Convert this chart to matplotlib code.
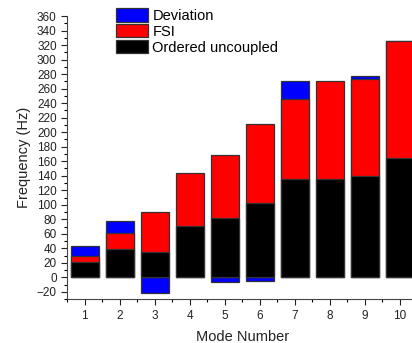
import numpy as np
import matplotlib.pyplot as plt
from matplotlib.ticker import MultipleLocator

# <codecell>
'''DATA'''
modes = [1, 2, 3, 4, 5, 6, 7, 8, 9, 10]
deviation = [43, 77, -21, 0, -6, -4.5, 270, 0, 278, 326]
fsi = [30, 61, 90, 144, 169, 211, 246, 270, 273, 326]
uncoupled = [21, 39, 34.5, 71, 82, 103, 135, 135, 140, 164]

# <codecell>
'''PLOT'''
plt.rcParams['font.family'] = ['Liberation Sans', 'DejaVu Sans']
fig = plt.figure(figsize=(4.12, 3.43), dpi=100)
ax = fig.add_axes([0.163, 0.128, 1.013 - 0.163, 0.953 - 0.128])

w = 0.8
ax.bar(modes, deviation, width=w, color='#0000ff', edgecolor='#333333',
       linewidth=0.9, label='Deviation')
ax.bar(modes, fsi, width=w, color='#ff0000', edgecolor='#333333',
       linewidth=0.9, label='FSI')
ax.bar(modes, uncoupled, width=w, color='#000000', edgecolor='#333333',
       linewidth=0.9, label='Ordered uncoupled')

ax.set_xlim(0.5, 10.5)
ax.set_ylim(-30, 360)
ax.set_xticks(modes)
ax.xaxis.set_minor_locator(MultipleLocator(0.5))
ax.yaxis.set_major_locator(MultipleLocator(20))
ax.yaxis.set_minor_locator(MultipleLocator(10))
ax.tick_params(which='major', direction='out', length=4, width=0.8,
               labelsize=8.5, colors='#222222')
ax.tick_params(which='minor', direction='out', length=2, width=0.8)
ax.spines['top'].set_visible(False)
ax.spines['right'].set_visible(False)
ax.spines['left'].set_color('#444444')
ax.spines['bottom'].set_color('#444444')

ax.set_xlabel('Mode Number', fontsize=10.5, color='#222222', labelpad=6)
ax.set_ylabel('Frequency (Hz)', fontsize=10.5, color='#222222', labelpad=4)

fig.legend(loc='upper left', bbox_to_anchor=(116 / 412, 1 - 8 / 343),
           frameon=False, fontsize=10.5, handlelength=2.2, handleheight=1.05,
           labelspacing=0.08, handletextpad=0.3, borderpad=0, borderaxespad=0)

plt.savefig('out.png', dpi=100)
